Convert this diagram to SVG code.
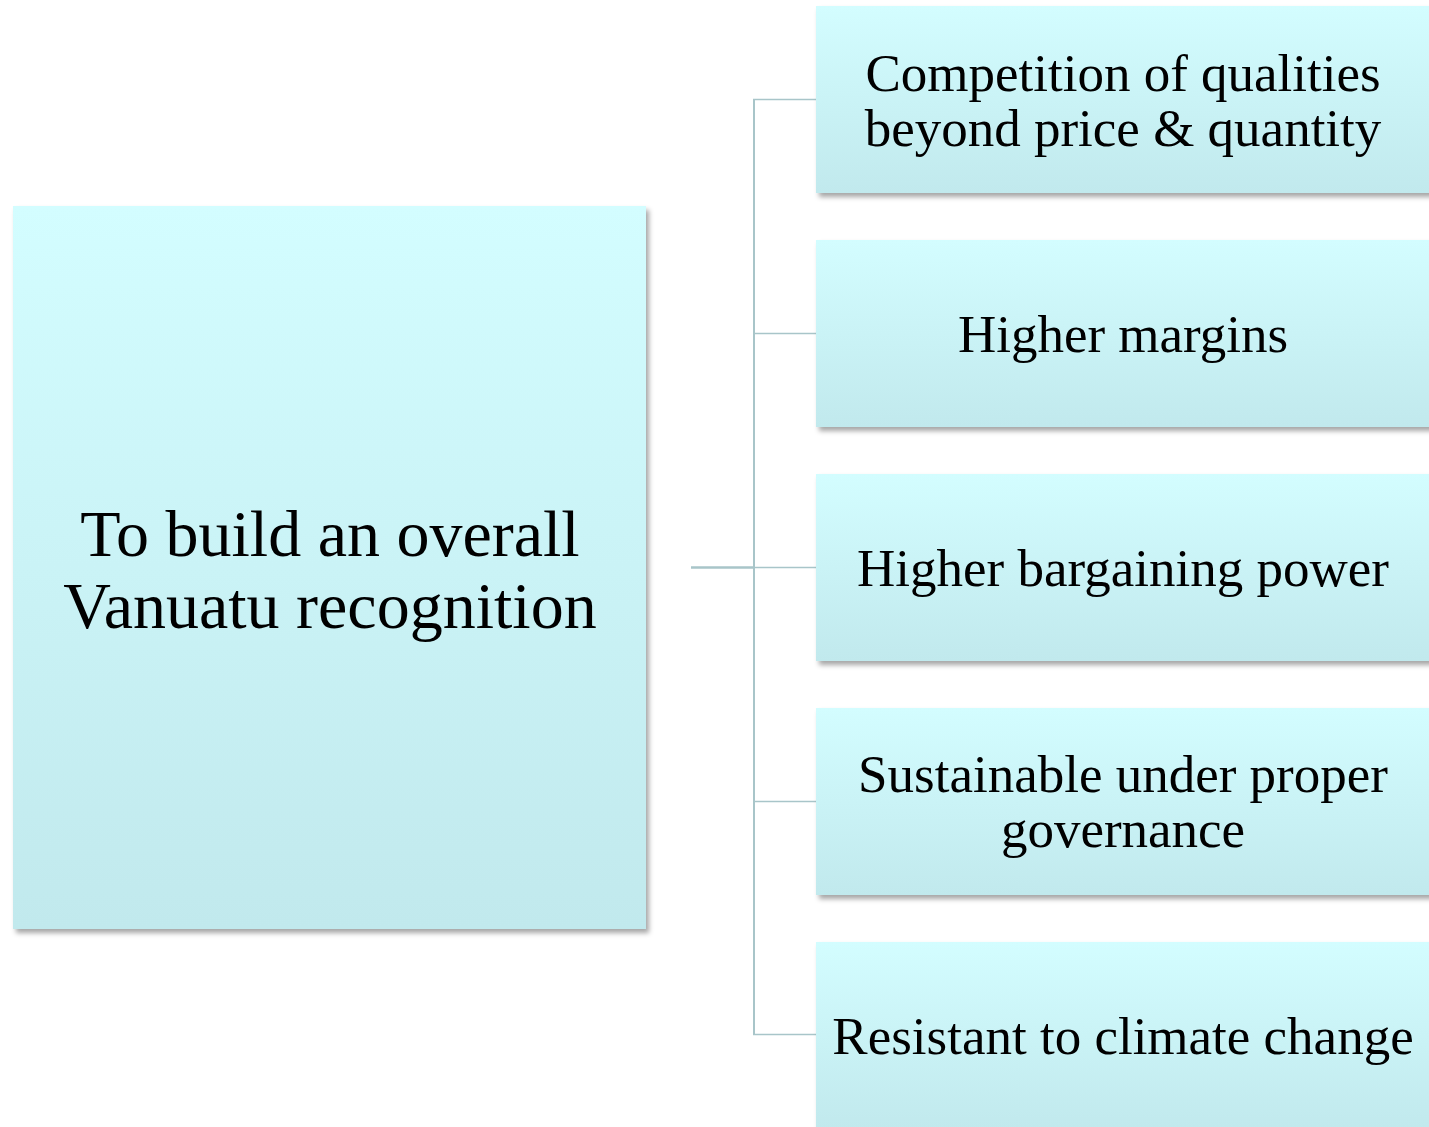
<svg xmlns="http://www.w3.org/2000/svg" width="1429" height="1127" viewBox="0 0 1429 1127">
  <defs>
    <linearGradient id="fill" x1="0" y1="0" x2="0" y2="1">
      <stop offset="0" stop-color="#d3fdff"/>
      <stop offset="1" stop-color="#c1e9ed"/>
    </linearGradient>
    <filter id="shadow" x="-5%" y="-5%" width="115%" height="120%">
      <feDropShadow dx="3" dy="4" stdDeviation="2.5" flood-color="#000" flood-opacity="0.35"/>
    </filter>
  </defs>
  <style>
    .box { fill: url(#fill); filter: url(#shadow); }
    .lbl { font-family: "Liberation Serif", "Times New Roman", serif; fill: #000; text-anchor: middle; }
    .big { font-size: 66px; }
    .sm { font-size: 53px; }
    .conn { stroke: #a8c5c9; fill: none; }
  </style>
  <rect width="1429" height="1127" fill="#ffffff"/>
  <g id="connectors">
    <line class="conn" x1="691" y1="567.5" x2="754" y2="567.5" stroke-width="2.5"/>
    <line class="conn" x1="754" y1="99.5" x2="754" y2="1034.5" stroke-width="2"/>
    <line class="conn" x1="753" y1="99.5" x2="816" y2="99.5" stroke-width="1.5"/>
    <line class="conn" x1="753" y1="333.5" x2="816" y2="333.5" stroke-width="1.5"/>
    <line class="conn" x1="753" y1="567.5" x2="816" y2="567.5" stroke-width="1.5"/>
    <line class="conn" x1="753" y1="801.5" x2="816" y2="801.5" stroke-width="1.5"/>
    <line class="conn" x1="753" y1="1034.5" x2="816" y2="1034.5" stroke-width="1.5"/>
  </g>
  <g id="root">
    <rect class="box" x="13" y="206" width="633" height="723"/>
    <text class="lbl big" x="330" y="556">To build an overall</text>
    <text class="lbl big" x="330" y="628">Vanuatu recognition</text>
  </g>
  <g id="n1">
    <rect class="box" x="816" y="6" width="616" height="187"/>
    <text class="lbl sm" x="1123" y="91">Competition of qualities</text>
    <text class="lbl sm" x="1123" y="146">beyond price &amp; quantity</text>
  </g>
  <g id="n2">
    <rect class="box" x="816" y="240" width="616" height="187"/>
    <text class="lbl sm" x="1123" y="352">Higher margins</text>
  </g>
  <g id="n3">
    <rect class="box" x="816" y="474" width="616" height="187"/>
    <text class="lbl sm" x="1123" y="586">Higher bargaining power</text>
  </g>
  <g id="n4">
    <rect class="box" x="816" y="708" width="616" height="187"/>
    <text class="lbl sm" x="1123" y="792">Sustainable under proper</text>
    <text class="lbl sm" x="1123" y="847">governance</text>
  </g>
  <g id="n5">
    <rect class="box" x="816" y="942" width="616" height="187"/>
    <text class="lbl sm" x="1123" y="1054">Resistant to climate change</text>
  </g>
</svg>
